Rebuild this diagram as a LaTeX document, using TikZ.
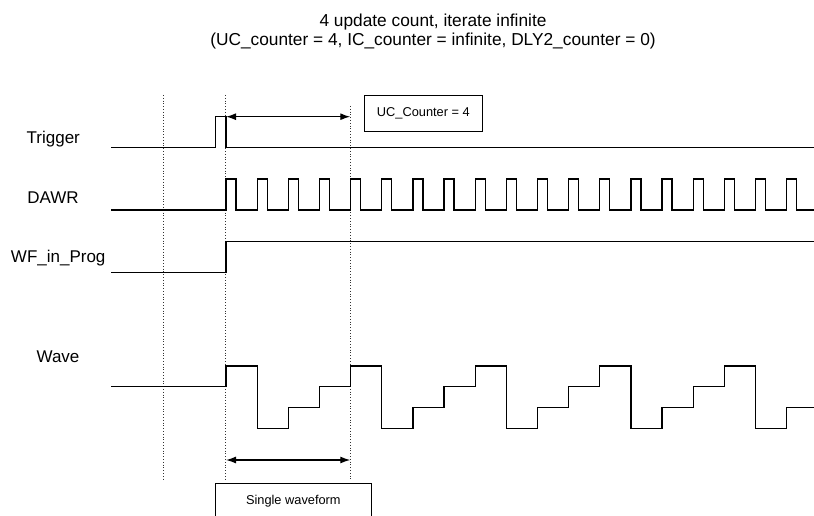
\documentclass[tikz,border=0pt]{standalone}
\usepackage{fontspec}
\setmainfont{Liberation Sans}
\usetikzlibrary{arrows.meta}
\tikzset{
  sig/.style={line width=1.3pt, line join=miter, black},
  guide/.style={dotted, line width=0.8pt, black!80},
  span/.style={line width=1.3pt, {Latex[length=10pt,width=7pt]}-{Latex[length=10pt,width=7pt]}},
  lab/.style={anchor=base, inner sep=0pt, font=\fontsize{17}{20}\selectfont},
  ttl/.style={anchor=base, inner sep=0pt, font=\fontsize{17.3}{20}\selectfont},
  boxed/.style={draw, line width=0.9pt, inner sep=0pt, font=\fontsize{12.8}{15}\selectfont},
}
\begin{document}
\begin{tikzpicture}[x=1pt, y=-1pt]
\useasboundingbox (0,0) rectangle (814,516);
\begin{scope}
\clip (0,0) rectangle (814,516);

% titles
\node[ttl] (t1) at (433,26.7) {4 update count, iterate infinite};
\node[ttl] (t2) at (433,46) {(UC\_counter = 4, IC\_counter = infinite, DLY2\_counter = 0)};

% signal labels
\node[lab] (ltrig) at (53.3,144) {Trigger};
\node[lab] (ldawr) at (53,203.5) {DAWR};
\node[lab] (lwf) at (58.2,262) {WF\_in\_Prog};
\node[lab] (lwave) at (58,362.7) {Wave};

% guide lines
\coordinate (g1t) at (163,95);   \coordinate (g1b) at (163,480);
\coordinate (g2t) at (225.7,95); \coordinate (g2b) at (225.7,480);
\coordinate (g3t) at (350.3,106);\coordinate (g3b) at (350.3,480);
\draw[guide] (g1t) -- (g1b);
\draw[guide] (g2t) -- (g2b);
\draw[guide] (g3t) -- (g3b);

% Trigger
\draw[sig] (111,147.3) -- (215.7,147.3) -- (215.7,116.7) -- (226,116.7) -- (226,147.3) -- (814,147.3);

% DAWR
\draw[sig] (111,210) -- (226,210)
  \foreach \k in {0,...,18} { -- ++(0,-31) -- ++(10,0) -- ++(0,31) -- ++(21.15,0) };

% WF_in_Prog
\draw[sig] (111,272.7) -- (226,272.7) -- (226,241.3) -- (820,241.3);

% Wave
\draw[sig] (111,386.7) -- (226,386.7)
  \foreach \m in {0,...,4} { -- ++(0,-20.75) -- ++(31.15,0) -- ++(0,62.25) -- ++(31.15,0)
     -- ++(0,-20.75) -- ++(31.15,0) -- ++(0,-20.75) -- ++(31.15,0) };

% spans
\coordinate (a1) at (226,116.7); \coordinate (a2) at (350.3,116.7);
\draw[span] (a1) -- (a2);
\coordinate (b1) at (226,460); \coordinate (b2) at (350.3,460);
\draw[span] (b1) -- (b2);

% boxes
\node[boxed, minimum width=118.7pt, minimum height=36pt] (uc) at (423.35,113) {UC\_Counter = 4};
\node[boxed, minimum width=156.7pt, minimum height=36.4pt] (sw) at (293.35,501.5) {Single waveform};
\end{scope}
\end{tikzpicture}
\end{document}
